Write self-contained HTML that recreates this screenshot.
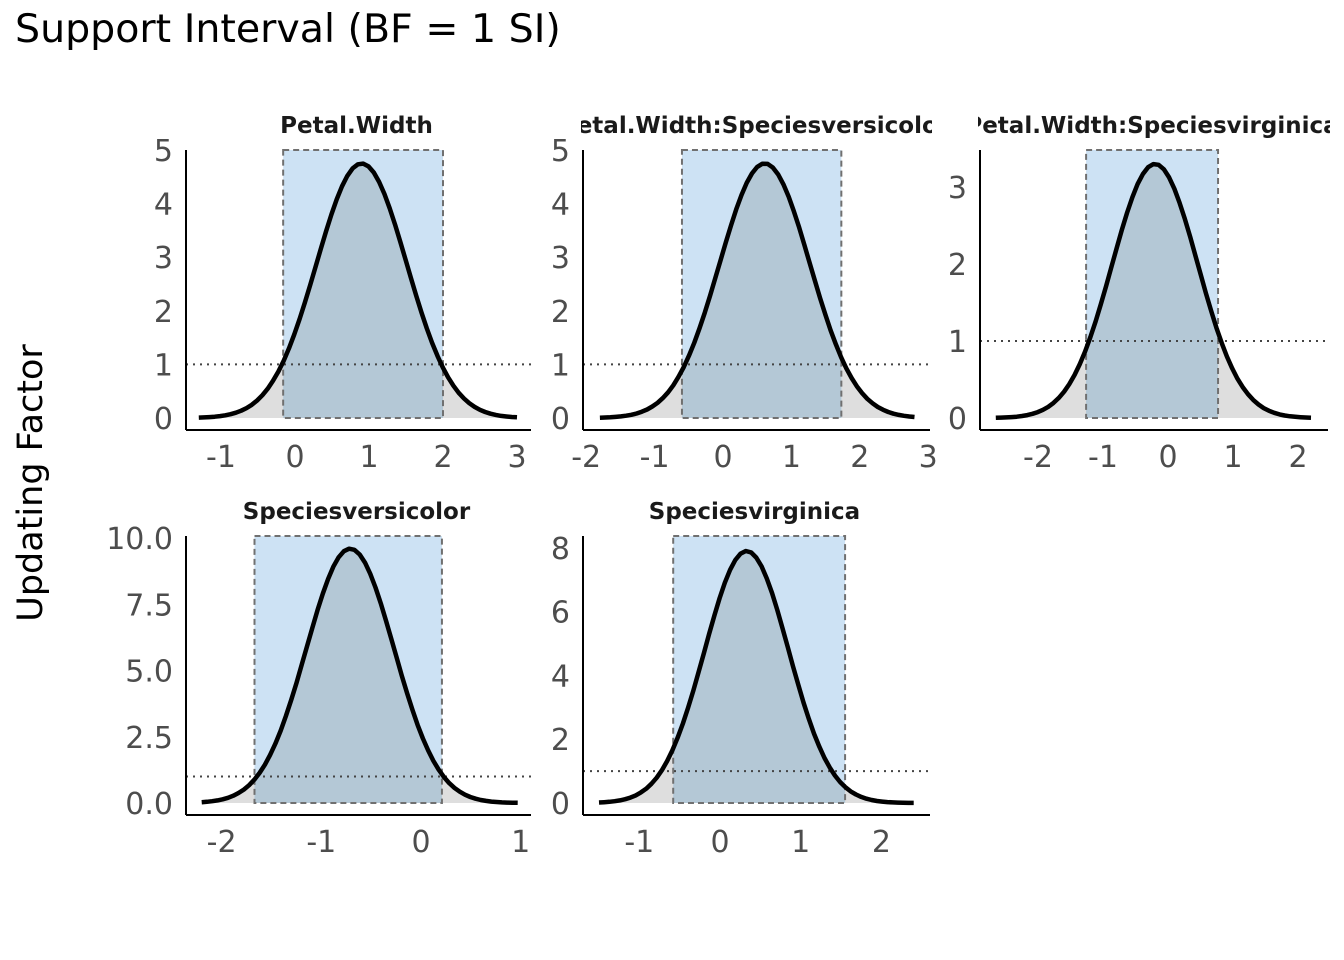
<!DOCTYPE html>
<html><head><meta charset="utf-8"><style>
body{margin:0;background:#fff}
svg{display:block;font-family:"DejaVu Sans","Liberation Sans",sans-serif}
</style></head><body>
<svg id="s" width="1344" height="960" xmlns="http://www.w3.org/2000/svg">
<text x="15" y="42" font-size="39.5" fill="#000">Support Interval (BF = 1 SI)</text>
<text transform="translate(42,483) rotate(-90)" text-anchor="middle" font-size="35" fill="#000">Updating Factor</text>
</svg>
<script>
const NS="http://www.w3.org/2000/svg";const s=document.getElementById('s');
function el(t,a,p){const e=document.createElementNS(NS,t);for(const k in a)e.setAttribute(k,a[k]);(p||s).appendChild(e);return e;}
const P=[
{t:"Petal.Width",x0:186,x1:531,yT:150,yB:430,xz:295,xu:74,y0:418,yu:53.6,lo:-0.16,hi:2.0,mu:0.9,pk:4.75,sd:0.61,a:-1.3,b:3.0,xt:[-1,0,1,2,3],yt:[[0,"0"],[1,"1"],[2,"2"],[3,"3"],[4,"4"],[5,"5"]]},
{t:"Petal.Width:Speciesversicolor",x0:583,x1:930,yT:150,yB:430,xz:723,xu:68.4,y0:418,yu:53.6,lo:-0.6,hi:1.73,mu:0.61,pk:4.75,sd:0.66,a:-1.8,b:2.8,xt:[-2,-1,0,1,2,3],yt:[[0,"0"],[1,"1"],[2,"2"],[3,"3"],[4,"4"],[5,"5"]]},
{t:"Petal.Width:Speciesvirginica",x0:980,x1:1328,yT:150,yB:430,xz:1168,xu:65,y0:418,yu:77,lo:-1.26,hi:0.77,mu:-0.2,pk:3.3,sd:0.657,a:-2.65,b:2.2,xt:[-2,-1,0,1,2],yt:[[0,"0"],[1,"1"],[2,"2"],[3,"3"]]},
{t:"Speciesversicolor",x0:186,x1:531,yT:536,yB:815,xz:421,xu:99.7,y0:803,yu:26.5,lo:-1.67,hi:0.21,mu:-0.71,pk:9.6,sd:0.44,a:-2.2,b:0.97,xt:[-2,-1,0,1],yt:[[0,"0.0"],[2.5,"2.5"],[5,"5.0"],[7.5,"7.5"],[10,"10.0"]]},
{t:"Speciesvirginica",x0:583,x1:930,yT:536,yB:815,xz:720,xu:80.7,y0:803,yu:31.9,lo:-0.58,hi:1.55,mu:0.33,pk:7.9,sd:0.52,a:-1.5,b:2.4,xt:[-1,0,1,2],yt:[[0,"0"],[2,"2"],[4,"4"],[6,"6"],[8,"8"]]}
];
P.forEach((p,i)=>{
 const X=v=>p.xz+v*p.xu, Y=v=>p.y0-v*p.yu;
 const pts=[];for(let k=0;k<=60;k++){const v=p.a+(p.b-p.a)*k/60;const d=v-p.mu;pts.push([X(v),Y(p.pk*Math.exp(-(d*d)/(2*p.sd*p.sd)))]);}
 const line="M"+pts.map(q=>q[0].toFixed(1)+","+q[1].toFixed(1)).join("L");
 const area=line+"L"+X(p.b)+","+p.y0+"L"+X(p.a)+","+p.y0+"Z";
 const cid="c"+i;const cp=el("clipPath",{id:cid});el("rect",{x:X(p.lo),y:p.yT,width:X(p.hi)-X(p.lo),height:p.y0-p.yT},cp);
 const ty=(i>=3)?486:100;
 const tid="t"+i;const tp=el("clipPath",{id:tid});el("rect",{x:p.x0-2,y:ty,width:p.x1-p.x0+4,height:50},tp);
 el("path",{d:area,fill:"#dedede"});
 el("rect",{x:X(p.lo),y:p.yT,width:X(p.hi)-X(p.lo),height:p.y0-p.yT,fill:"#cde2f4"});
 el("path",{d:area,fill:"#b4c8d6","clip-path":"url(#"+cid+")"});
 el("rect",{x:X(p.lo),y:p.yT,width:X(p.hi)-X(p.lo),height:p.y0-p.yT,fill:"none",stroke:"#707070","stroke-width":2,"stroke-dasharray":"6,4"});
 el("line",{x1:p.x0,x2:p.x1,y1:Y(1),y2:Y(1),stroke:"#444","stroke-width":2,"stroke-dasharray":"2,5"});
 el("path",{d:line,fill:"none",stroke:"#000","stroke-width":4.5,"stroke-linejoin":"round"});
 el("line",{x1:p.x0,x2:p.x0,y1:p.yT,y2:p.yB,stroke:"#000","stroke-width":2});
 el("line",{x1:p.x0,x2:p.x1,y1:p.yB,y2:p.yB,stroke:"#000","stroke-width":2});
 p.xt.forEach(v=>{const t=el("text",{x:X(v),y:p.yB+37,"text-anchor":"middle","font-size":30,fill:"#4d4d4d"});t.textContent=v<0?"-"+(-v):String(v);});
 p.yt.forEach(v=>{const t=el("text",{x:p.x0-13,y:Y(v[0])+11,"text-anchor":"end","font-size":30,fill:"#4d4d4d"});t.textContent=v[1];});
 const tt=el("text",{x:(p.x0+p.x1)/2-2,y:(i>=3)?519:133,"text-anchor":"middle","font-size":23,"font-weight":"bold",fill:"#1a1a1a","clip-path":"url(#"+tid+")"});tt.textContent=p.t;
});
</script>
</body></html>
